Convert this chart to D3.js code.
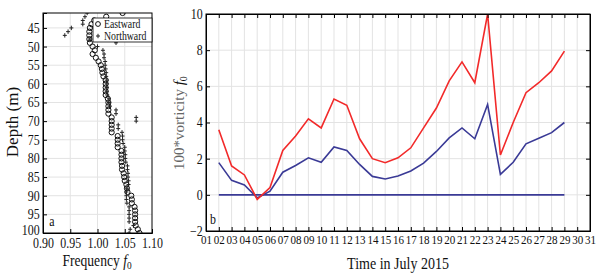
<!DOCTYPE html>
<html>
<head>
<meta charset="utf-8">
<script src="https://cdn.jsdelivr.net/npm/d3@7"></script>
<style>
  body { margin: 0; background: #fff; }
  text { font-family: "Liberation Serif", "Times New Roman", serif; fill: #111; }
  .grid line { stroke: #e3e3e3; stroke-width: 1; }
  .axis path, .axis line { stroke: #000; }
</style>
</head>
<body>
<div id="chart"></div>
<script>
// panel a: frequency profile vs depth
const depths = d3.range(41, 101);
const eastward = [
  1.046, 1.016, 0.994, 0.989, 0.986, 0.985, 0.985, 0.985, 0.986, 0.991,
  0.995, 0.991, 0.997, 1.002, 1.006, 1.008, 1.009, 1.011, 1.015, 1.015,
  1.015, 1.015, 1.015, 1.019, 1.020, 1.020, 1.020, 1.020, 1.026, 1.026,
  1.026, 1.026, 1.026, 1.037, 1.037, 1.037, 1.037, 1.044, 1.044, 1.044,
  1.044, 1.045, 1.045, 1.048, 1.049, 1.050, 1.053, 1.054, 1.055, 1.062,
  1.063, 1.063, 1.068, 1.069, 1.069, 1.069, 1.069, 1.070, 1.074, 1.077
];
const northward = [
  0.981, 0.977, 0.973, 0.973, 0.952, 0.946, 0.940, 0.986, 1.034, 1.000,
  1.010, 1.012, 1.012, 1.014, 1.014, 1.015, 1.016, 1.016, 1.017, 1.017,
  1.017, 1.017, 1.018, 1.021, 1.021, 1.022, 1.034, 1.034, 1.071, 1.071,
  1.038, 1.038, 1.045, 1.046, 1.046, 1.047, 1.050, 1.050, 1.051, 1.051,
  1.052, 1.055, 1.055, 1.056, 1.056, 1.057, 1.057, 1.054, 1.053, 1.053,
  1.053, 1.054, 1.058, 1.058, 1.058, 1.058, 1.058, 1.066, 1.060, 1.058
];
const freqTicks = [0.90, 0.95, 1.00, 1.05, 1.10];
const depthTicks = d3.range(45, 101, 5);

// panel b: vorticity time series, July 2015
const days = d3.range(2, 30);
const upper = [
  3.6, 1.6, 1.1, -0.25, 0.4, 2.45, 3.25, 4.2, 3.7, 5.3,
  4.95, 3.1, 2.0, 1.78, 2.05, 2.6, 3.7, 4.8, 6.3, 7.35,
  6.2, 10.0, 2.2, 4.0, 5.65, 6.2, 6.85, 7.95
];
const lower = [
  1.78, 0.8, 0.55, -0.17, 0.2, 1.25, 1.62, 2.05, 1.8, 2.65,
  2.45, 1.68, 1.02, 0.88, 1.04, 1.32, 1.75, 2.4, 3.15, 3.7,
  3.1, 5.0, 1.13, 1.8, 2.82, 3.13, 3.44, 4.0
];
const baseline = days.map(() => 0);
const dayTicks = d3.range(1, 32);
const vortTicks = d3.range(-2, 11, 2);

const W = 601, H = 275;
const SX = 0.85; // text looks squeezed sideways in the figure

const svg = d3.select("#chart").append("svg")
  .attr("width", W).attr("height", H);
svg.append("rect").attr("width", W).attr("height", H).attr("fill", "#fff");

function label(g, x, y, txt, size, anchor) {
  return g.append("text")
    .attr("transform", `translate(${x},${y}) scale(${SX},1)`)
    .attr("text-anchor", anchor || "middle")
    .attr("font-size", size)
    .text(txt);
}

function squeezeTicks(size) {
  return g => g.selectAll(".tick text").attr("transform", `scale(${SX},1)`).attr("font-size", size)
    .attr("font-family", "Liberation Serif, serif");
}

//----- PANEL A -----
const xA = d3.scaleLinear().domain([0.90, 1.10]).range([43, 152]);
const yA = d3.scaleLinear().domain([41, 100]).range([13, 233]);
const gA = svg.append("g");

gA.append("g").attr("class", "grid").selectAll("line")
  .data(freqTicks.slice(1, -1)).join("line")
  .attr("x1", d => xA(d)).attr("x2", d => xA(d))
  .attr("y1", yA.range()[0]).attr("y2", yA.range()[1]);
gA.append("g").attr("class", "grid").selectAll("line")
  .data(depthTicks.slice(0, -1)).join("line")
  .attr("x1", xA.range()[0]).attr("x2", xA.range()[1])
  .attr("y1", d => yA(d)).attr("y2", d => yA(d));

gA.append("defs").append("clipPath").attr("id", "clipA")
  .append("rect").attr("x", xA.range()[0]).attr("y", yA.range()[0])
  .attr("width", xA.range()[1] - xA.range()[0]).attr("height", yA.range()[1] - yA.range()[0]);

const ptsA = gA.append("g").attr("clip-path", "url(#clipA)");
ptsA.selectAll("circle.east")
  .data(depths.map((d, i) => [eastward[i], d])).join("circle")
  .attr("class", "east")
  .attr("cx", d => xA(d[0])).attr("cy", d => yA(d[1])).attr("r", 2.6)
  .attr("fill", "none").attr("stroke", "#111").attr("stroke-width", 1);
ptsA.selectAll("path.north")
  .data(depths.map((d, i) => [northward[i], d])).join("path")
  .attr("class", "north")
  .attr("d", d => { const x = xA(d[0]), y = yA(d[1]); return `M${x - 2},${y}H${x + 2}M${x},${y - 2.2}V${y + 2.2}`; })
  .attr("stroke", "#222").attr("stroke-width", 1);

gA.append("g").attr("class", "axis").attr("transform", `translate(0,${yA.range()[1]})`)
  .call(d3.axisBottom(xA).tickValues(freqTicks).tickFormat(d3.format(".2f")).tickSize(-4).tickPadding(5))
  .call(squeezeTicks(14));
gA.append("g").attr("class", "axis").attr("transform", `translate(${xA.range()[0]},0)`)
  .call(d3.axisLeft(yA).tickValues(depthTicks).tickSize(-4).tickPadding(4))
  .call(squeezeTicks(14))
  .call(g => g.selectAll(".tick text").filter(d => d === 100).attr("y", -3));
gA.append("rect").attr("x", xA.range()[0]).attr("y", yA.range()[0])
  .attr("width", xA.range()[1] - xA.range()[0]).attr("height", yA.range()[1] - yA.range()[0])
  .attr("fill", "none").attr("stroke", "#000");

// legend
const leg = gA.append("g");
leg.append("rect").attr("x", 93).attr("y", 18).attr("width", 59).attr("height", 24)
  .attr("fill", "#fff").attr("stroke", "#000").attr("stroke-width", 0.8);
leg.append("circle").attr("cx", 98).attr("cy", 24).attr("r", 2.4)
  .attr("fill", "none").attr("stroke", "#111").attr("stroke-width", 1);
leg.append("path").attr("d", "M96,36H100M98,33.8V38.2").attr("stroke", "#222");
label(leg, 104, 28, "Eastward", 11.5, "start");
label(leg, 104, 39.5, "Northward", 11.5, "start");

label(gA, 52, 226, "a", 14);
const fq = label(gA, 97, 266, "Frequency ", 16);
fq.append("tspan").attr("font-style", "italic").text("f");
fq.append("tspan").attr("font-size", 11).attr("dy", 3).text("0");

gA.append("text")
  .attr("transform", "translate(18,122) rotate(-90)")
  .attr("text-anchor", "middle").attr("font-size", 17)
  .text("Depth (m)");

//----- PANEL B -----
const xB = d3.scaleLinear().domain([1, 31]).range([206, 590]);
const yB = d3.scaleLinear().domain([-2, 10]).range([231, 14]);
const gB = svg.append("g");

gB.append("g").attr("class", "grid").selectAll("line")
  .data(dayTicks.slice(1, -1)).join("line")
  .attr("x1", d => xB(d)).attr("x2", d => xB(d))
  .attr("y1", yB.range()[0]).attr("y2", yB.range()[1]);
gB.append("g").attr("class", "grid").selectAll("line")
  .data(vortTicks.slice(1, -1)).join("line")
  .attr("x1", xB.range()[0]).attr("x2", xB.range()[1])
  .attr("y1", d => yB(d)).attr("y2", d => yB(d))
  .attr("stroke", d => d === 0 ? "#bbb" : null);

gB.append("defs").append("clipPath").attr("id", "clipB")
  .append("rect").attr("x", xB.range()[0]).attr("y", yB.range()[1])
  .attr("width", xB.range()[1] - xB.range()[0]).attr("height", yB.range()[0] - yB.range()[1]);

const line = d3.line().x(d => xB(d[0])).y(d => yB(d[1]));
const linesB = gB.append("g").attr("clip-path", "url(#clipB)");
linesB.append("path").datum(days.map((d, i) => [d, baseline[i]]))
  .attr("d", line).attr("fill", "none").attr("stroke", "#3a3a96").attr("stroke-width", 1.6);
linesB.append("path").datum(days.map((d, i) => [d, lower[i]]))
  .attr("d", line).attr("fill", "none").attr("stroke", "#3a3a96").attr("stroke-width", 1.6);
linesB.append("path").datum(days.map((d, i) => [d, upper[i]]))
  .attr("d", line).attr("fill", "none").attr("stroke", "#f22a2a").attr("stroke-width", 1.6);

gB.append("g").attr("class", "axis").attr("transform", `translate(0,${yB.range()[0]})`)
  .call(d3.axisBottom(xB).tickValues(dayTicks).tickFormat(d3.format("02d")).tickSize(-4).tickPadding(4))
  .call(squeezeTicks(13));
gB.append("g").attr("class", "axis").attr("transform", `translate(${xB.range()[0]},0)`)
  .call(d3.axisLeft(yB).tickValues(vortTicks).tickSize(-4).tickPadding(4))
  .call(squeezeTicks(14));
gB.append("g").attr("class", "axis").attr("transform", `translate(${xB.range()[1]},0)`)
  .call(d3.axisRight(yB).tickValues(vortTicks).tickSize(-4).tickFormat(""));
gB.append("g").attr("class", "axis").attr("transform", `translate(0,${yB.range()[1]})`)
  .call(d3.axisTop(xB).tickValues(dayTicks).tickSize(-4).tickFormat(""));
gB.append("rect").attr("x", xB.range()[0]).attr("y", yB.range()[1])
  .attr("width", xB.range()[1] - xB.range()[0]).attr("height", yB.range()[0] - yB.range()[1])
  .attr("fill", "none").attr("stroke", "#000");

label(gB, 213, 224, "b", 14);
label(gB, 398, 269, "Time in July 2015", 16.5);

const yl = gB.append("text")
  .attr("transform", "translate(184,123) rotate(-90)")
  .attr("text-anchor", "middle").attr("font-size", 15);
yl.append("tspan").attr("fill", "#666").text("100*vorticity ");
yl.append("tspan").attr("font-style", "italic").text("f");
yl.append("tspan").attr("font-size", 10).attr("dy", 3).text("0");
</script>
</body>
</html>
